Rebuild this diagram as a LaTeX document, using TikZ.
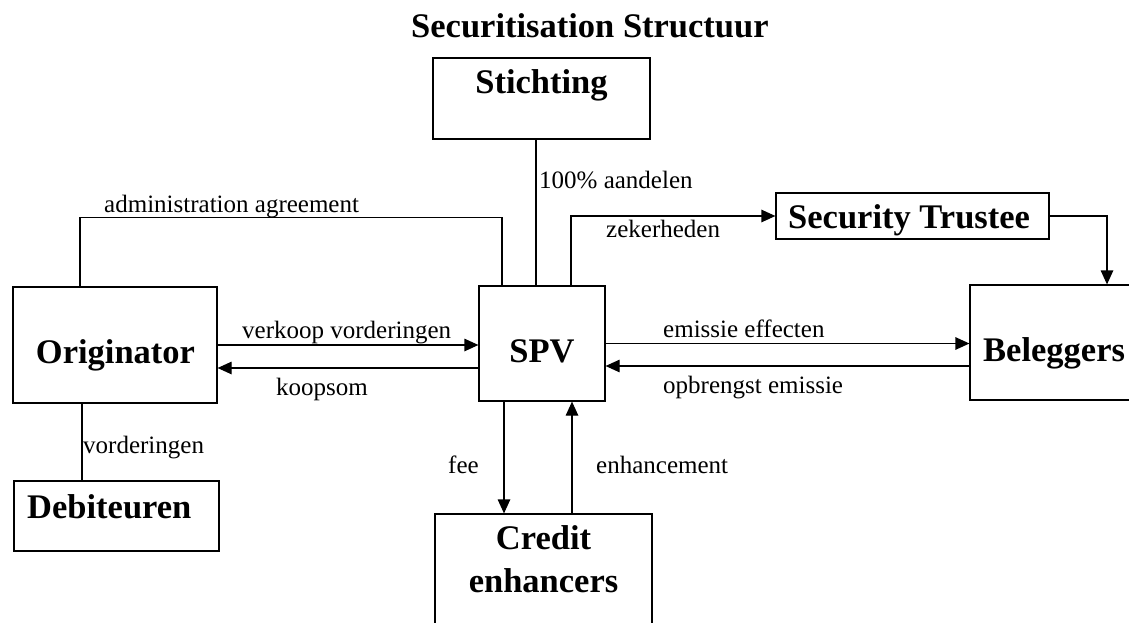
\documentclass[tikz,border=0pt]{standalone}
\usepackage{fontspec}
\setmainfont{Liberation Serif}
\usetikzlibrary{arrows.meta,calc}

\tikzset{
  box/.style={draw, line width=1.2pt, rectangle, inner sep=0pt},
  link/.style={line width=1.2pt},
  flow/.style={line width=1.2pt, -{Triangle[length=14pt,width=12.5pt]}},
  lbl/.style={inner sep=0pt, anchor=base west, font=\fontsize{25}{30}\selectfont},
  head/.style={inner sep=0pt, anchor=base, font=\fontsize{34.5}{38}\selectfont\bfseries, align=center}
}

\begin{document}
\begin{tikzpicture}[x=1pt, y=-1pt]
  \useasboundingbox (0,0) rectangle (1129,623);
  \clip (0,0) rectangle (1129,623);

  % boxes
  \node[box, minimum width=217pt, minimum height=81pt]  (stich) at (541.5,98.5) {};
  \node[box, minimum width=126pt, minimum height=115pt] (spv)   at (542,343.5) {};
  \node[box, minimum width=273pt, minimum height=46pt]  (trust) at (912.5,216) {};
  \node[box, minimum width=165pt, minimum height=115pt] (bel)   at (1052.5,342.5) {};
  \node[box, minimum width=204pt, minimum height=116pt] (orig)  at (115,345) {};
  \node[box, minimum width=205pt, minimum height=70pt]  (deb)   at (116.5,516) {};
  \node[box, minimum width=217pt, minimum height=132pt] (cred)  at (543.5,580) {};

  % box texts
  \node[head, anchor=base west] (title) at (411,38) {Securitisation Structuur};
  \node[head] (tstich) at (541.5,94) {Stichting};
  \node[head] (tspv)   at (542,362) {SPV};
  \node[head, anchor=base west] (ttrust) at (788,228) {Security Trustee};
  \node[head, anchor=base west] (tbel)   at (983,361) {Beleggers};
  \node[head] (torig)  at (115.5,363) {Originator};
  \node[head, anchor=base west] (tdeb)   at (27,518) {Debiteuren};
  \node[head] (tcred1) at (543.5,549) {Credit};
  \node[head] (tcred2) at (543.5,592) {enhancers};

  % connectors
  \draw[link] ([xshift=-5.5pt]stich.south) -- ([xshift=-6pt]spv.north);
  \draw[link] ([xshift=-35pt]orig.north) -- ++(0,-69) -| ([xshift=-40pt]spv.north);
  \draw[flow] ([xshift=29pt]spv.north) |- (trust.west);
  \draw[flow] (trust.east) -| ([xshift=54.5pt]bel.north);
  \draw[flow] (spv.east) -- (spv.east -| bel.west);
  \draw[flow] ([yshift=-23.5pt]bel.west) -- ([yshift=-23.5pt]bel.west -| spv.east);
  \draw[flow] (orig.east) -- (orig.east -| spv.west);
  \draw[flow] ([yshift=-24.5pt]spv.west) -- ([yshift=-24.5pt]spv.west -| orig.east);
  \draw[link] ([xshift=-33pt]orig.south) -- ([xshift=-33pt]orig.south |- deb.north);
  \draw[flow] ([xshift=-38pt]spv.south) -- ([xshift=-38pt]spv.south |- cred.north);
  \draw[flow] ([xshift=30pt]spv.south |- cred.north) -- ([xshift=30pt]spv.south);

  % connector labels
  \node[lbl] (ladm)  at (104,212) {administration agreement};
  \node[lbl] (laand) at (539,188) {100\% aandelen};
  \node[lbl] (lzek)  at (606,237) {zekerheden};
  \node[lbl] (lemi)  at (663,337) {emissie effecten};
  \node[lbl] (lopb)  at (663,393) {opbrengst emissie};
  \node[lbl] (lverk) at (242,338) {verkoop vorderingen};
  \node[lbl] (lkoop) at (276,395) {koopsom};
  \node[lbl] (lvord) at (83,453) {vorderingen};
  \node[lbl] (lfee)  at (448,473) {fee};
  \node[lbl] (lenh)  at (596,473) {enhancement};
\end{tikzpicture}
\end{document}
